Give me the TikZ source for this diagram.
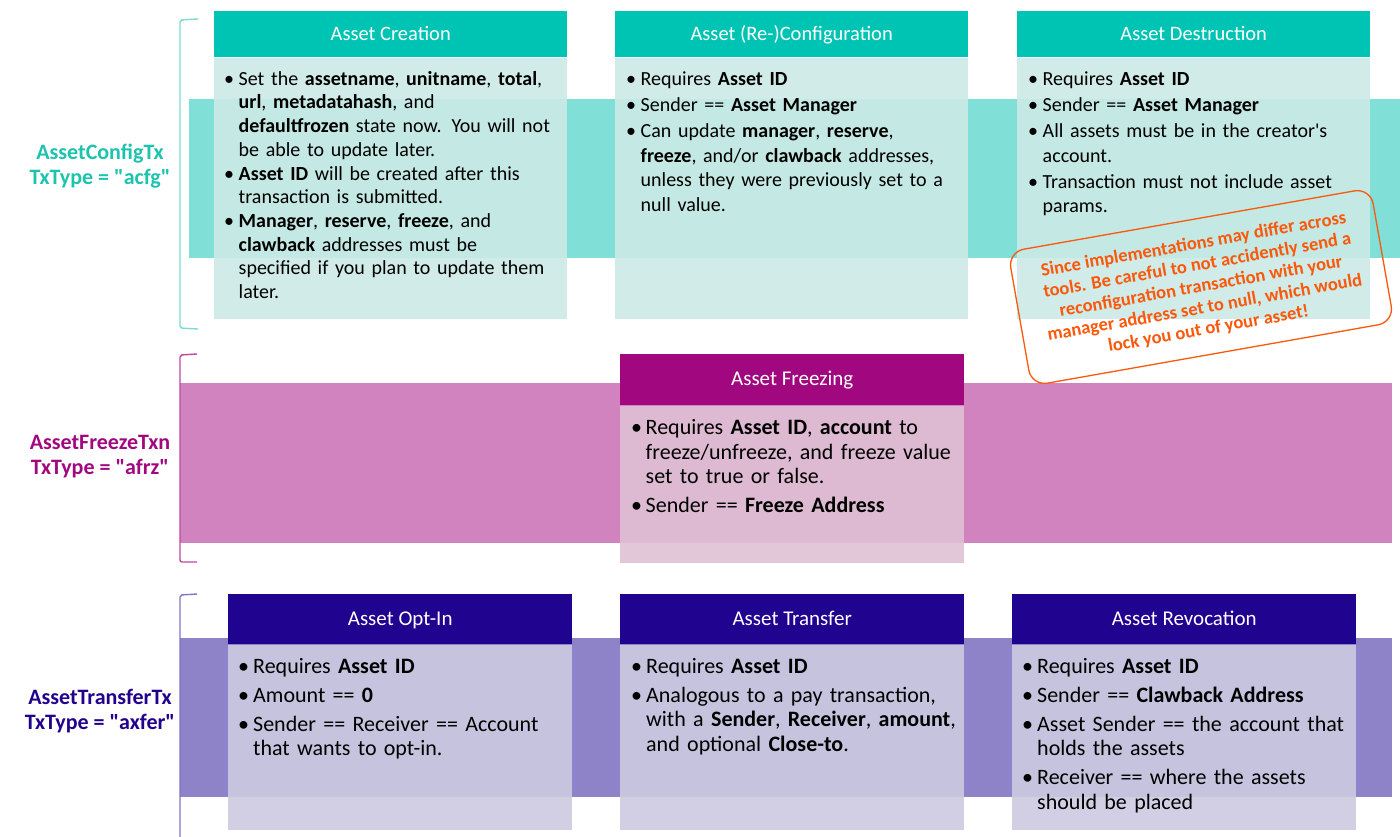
\documentclass[tikz,border=0pt]{standalone}
\usepackage{fontspec}
\setmainfont{Carlito}[Ligatures=TeXOff]
\definecolor{tealhd}{RGB}{0,196,179}
\definecolor{tealbd}{RGB}{204,233,229}
\definecolor{tealbnd}{RGB}{128,224,216}
\definecolor{tealtx}{RGB}{29,195,174}
\definecolor{tealbr}{RGB}{120,220,210}
\definecolor{maghd}{RGB}{161,8,128}
\definecolor{magbd}{RGB}{223,193,213}
\definecolor{magbnd}{RGB}{209,131,191}
\definecolor{magtx}{RGB}{161,8,128}
\definecolor{magbr}{RGB}{190,70,160}
\definecolor{indhd}{RGB}{32,3,143}
\definecolor{indbd}{RGB}{205,202,225}
\definecolor{indbnd}{RGB}{142,131,201}
\definecolor{indtx}{RGB}{34,1,140}
\definecolor{indbr}{RGB}{130,115,195}
\definecolor{warn}{RGB}{250,88,10}
\newcommand\fA{\fontsize{20}{24.5}\selectfont}
\newcommand\fAc{\fontsize{20}{23.7}\selectfont}
\newcommand\fB{\fontsize{22}{24.5}\selectfont}
\newcommand\fHa{\fontsize{20.5}{24}\selectfont}
\newcommand\fHb{\fontsize{21}{24}\selectfont}
\newcommand\fL{\fontsize{22}{25}\selectfont\bfseries}
\newcommand\fW{\fontsize{18.5}{21.5}\selectfont\bfseries}
\newlength\bh
\newcommand\bi[1]{\noindent\hangindent=\bh\hangafter=1\makebox[\bh][l]{\textbullet}#1\par}
\tikzset{
  hdr/.style={anchor=north west, inner sep=0pt, text=white, text height=15pt, text depth=3pt},
  hdrA/.style={hdr, fill=tealhd, minimum width=353, minimum height=46, font=\fHa},
  bodyA/.style={anchor=north west, inner sep=0pt, fill=tealbd, fill opacity=0.9, minimum width=353, minimum height=261},
  hdrM/.style={hdr, fill=maghd, minimum width=344, minimum height=51, font=\fHb},
  bodyM/.style={anchor=north west, inner sep=0pt, fill=magbd, fill opacity=0.9, minimum width=344, minimum height=157},
  hdrI/.style={hdr, fill=indhd, minimum width=344, minimum height=50, font=\fHb},
  bodyI/.style={anchor=north west, inner sep=0pt, fill=indbd, fill opacity=0.9, minimum width=344, minimum height=185},
  txtA/.style={anchor=north west, inner sep=0pt, text width=370pt, align=left, text=black, font=\fA},
  txtB/.style={anchor=north west, inner sep=0pt, text width=370pt, align=left, text=black, font=\fB},
  lab/.style={align=center, font=\fL, inner sep=0pt},
  brk/.style={line width=1.4pt, rounded corners=2pt},
  callout/.style={draw=warn, line width=1.3pt, rounded corners=16pt, text=warn, font=\fW, align=center, minimum width=368, minimum height=136, inner sep=0pt}
}
\begin{document}
\begin{tikzpicture}[x=1pt,y=-1pt]
\useasboundingbox (0,0) rectangle (1400,836);
% bands
\fill[tealbnd] (189,99) rectangle (1400,258);
\fill[magbnd] (180,383) rectangle (1392,543);
\fill[indbnd] (180,638) rectangle (1392,797);
% brackets
\draw[brk, tealbr] (198,19) -- (180,20) -- (180,328) -- (198,329);
\draw[brk, magbr] (197,354) -- (180,355) -- (180,562) -- (197,562);
\draw[brk, indbr] (197,594) -- (180,595) -- (180,840);
% labels
\node[lab, text=tealtx] (l1) at (100,166) {AssetConfigTx\\TxType = "acfg"};
\node[lab, text=magtx] (l2) at (100,457) {AssetFreezeTxn\\TxType = "afrz"};
\node[lab, text=indtx] (l3) at (100,711) {AssetTransferTx\\TxType = "axfer"};
% row 1
\node[hdrA] (h1) at (214,11) {Asset Creation};
\node[bodyA] (b1) at (h1.south west) {};
\node[txtA, font=\fAc] (t1) at (224,71) {\setlength\bh{14.5pt}\setlength\parskip{0pt}%
\bi{Set the \textbf{assetname}, \textbf{unitname}, \textbf{total},\newline \textbf{url}, \textbf{metadatahash}, and\newline \textbf{defaultfrozen} state now. You will not\newline be able to update later.}
\bi{\textbf{Asset ID} will be created after this\newline transaction is submitted.}
\bi{\textbf{Manager}, \textbf{reserve}, \textbf{freeze}, and\newline \textbf{clawback} addresses must be\newline specified if you plan to update them\newline later.}};
\node[hdrA] (h2) at (615,11) {Asset (Re-)Configuration};
\node[bodyA] (b2) at (h2.south west) {};
\node[txtA] (t2) at (626,72) {\setlength\bh{14.5pt}\setlength\parskip{1.5pt}%
\bi{Requires \textbf{Asset ID}}
\bi{Sender == \textbf{Asset Manager}}
\bi{Can update \textbf{manager}, \textbf{reserve},\newline \textbf{freeze}, and/or \textbf{clawback} addresses,\newline unless they were previously set to a\newline null value.}};
\node[hdrA] (h3) at (1017,11) {Asset Destruction};
\node[bodyA] (b3) at (h3.south west) {};
\node[txtA] (t3) at (1028,72) {\setlength\bh{14.5pt}\setlength\parskip{1.5pt}%
\bi{Requires \textbf{Asset ID}}
\bi{Sender == \textbf{Asset Manager}}
\bi{All assets must be in the creator's\newline account.}
\bi{Transaction must not include asset\newline params.}};
% row 2
\node[hdrM] (h4) at (620,354) {Asset Freezing};
\node[bodyM] (b4) at (h4.south west) {};
\node[txtB] (t4) at (631,419.5) {\setlength\bh{14.5pt}\setlength\parskip{4.5pt}%
\bi{Requires \textbf{Asset ID}, \textbf{account} to\newline freeze/unfreeze,  and freeze value\newline set to true or false.}
\bi{Sender == \textbf{Freeze Address}}};
% row 3
\node[hdrI] (h5) at (228,594) {Asset Opt-In};
\node[bodyI] (b5) at (h5.south west) {};
\node[txtB] (t5) at (238,658) {\setlength\bh{15pt}\setlength\parskip{4.5pt}%
\bi{Requires \textbf{Asset ID}}
\bi{Amount == \textbf{0}}
\bi{Sender == Receiver == Account\newline that wants to opt-in.}};
\node[hdrI] (h6) at (620,594) {Asset Transfer};
\node[bodyI] (b6) at (h6.south west) {};
\node[txtB] (t6) at (631,658) {\setlength\bh{15pt}\setlength\parskip{4.5pt}%
\bi{Requires \textbf{Asset ID}}
\bi{Analogous to a pay transaction,\newline with a \textbf{Sender}, \textbf{Receiver}, \textbf{amount},\newline and optional \textbf{Close-to}.}};
\node[hdrI] (h7) at (1012,594) {Asset Revocation};
\node[bodyI] (b7) at (h7.south west) {};
\node[txtB] (t7) at (1022,658) {\setlength\bh{15pt}\setlength\parskip{4.5pt}%
\bi{Requires \textbf{Asset ID}}
\bi{Sender == \textbf{Clawback Address}}
\bi{Asset Sender == the account that\newline holds the assets}
\bi{Receiver == where the assets\newline should be placed}};
% callout
\node[callout, rotate=10] (warnbox) at (1201,287) {Since implementations may differ across\\tools. Be careful to not accidently send a\\reconfiguration transaction with your\\manager address set to null, which would\\lock you out of your asset!};
\end{tikzpicture}
\end{document}
